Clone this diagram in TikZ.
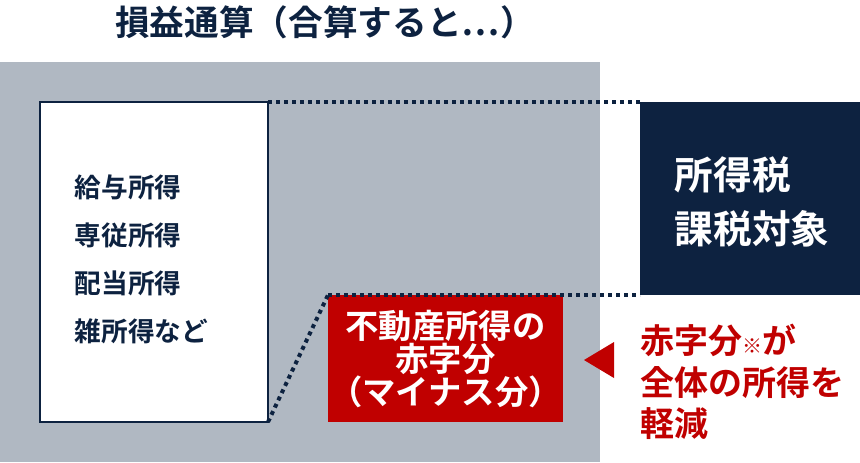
\documentclass[tikz,border=0pt]{standalone}
\usepackage{fontspec}
\setmainfont{Noto Sans CJK JP}[BoldFont={Noto Sans CJK JP Bold}]
\definecolor{grayback}{RGB}{176,184,194}
\definecolor{navy}{RGB}{13,34,64}
\definecolor{redbox}{RGB}{192,0,0}
\tikzset{every picture/.style={line width=0.75pt}}
\tikzset{
  dotline/.style={navy, line width=3pt, dash pattern=on 3pt off 3pt},
  boxtext/.style={font=\bfseries\fontsize{20}{36}\selectfont, align=left},
}

\begin{document}
\begin{tikzpicture}[x=0.75pt,y=0.75pt,yscale=-1,xscale=1]
	\useasboundingbox (0,0) rectangle (860,462);

	%Shape: Rectangle [id:grayback]
	\fill [grayback] (0,62) rectangle (600,462);
	%Shape: Rectangle [id:incomebox]
	\draw [navy, line width=1.5pt, fill=white] (40,102) rectangle (268,422);
	\coordinate (incNE) at (268,102);
	\coordinate (incSE) at (268,422);
	%Shape: Rectangle [id:taxbox]
	\fill [navy] (640,102) rectangle (860,295);
	\coordinate (taxNW) at (640,102);
	\coordinate (taxSW) at (640,295);
	%Shape: Rectangle [id:lossbox]
	\fill [redbox] (328,295) rectangle (563,422);
	\coordinate (lossNW) at (328,295);
	%Shape: Triangle [id:arrowtri]
	\fill [redbox] (584,360) -- (614,342) -- (614,378) -- cycle;

	%Dotted Lines
	\draw [dotline] (incNE) -- (taxNW);
	\draw [dotline] (lossNW) -- (taxSW);
	\draw [dotline] (incSE) -- (lossNW);

	% Text Node
	\node [font=\bfseries\fontsize{26}{30}\selectfont, text=navy] (title) at (325,22) {損益通算（合算すると…）};
	% Text Node
	\node [boxtext, text=navy, anchor=west] (income) at (70,259) {給与所得\\専従所得\\配当所得\\雑所得など};
	% Text Node
	\node [text=white, align=left, anchor=west, font=\bfseries\fontsize{29}{40}\selectfont] (taxtext) at (670,202) {所得税\\課税対象};
	% Text Node
	\node [font=\bfseries\fontsize{25}{25}\selectfont, text=white, align=center] (losstext) at (445.5,359) {不動産所得の\\赤字分\\（マイナス分）};
	% Text Node
	\node [font=\bfseries\fontsize{25.5}{31}\selectfont, text=redbox, align=left, anchor=west] (reducetext) at (636,382) {赤字分{\fontsize{15}{15}\selectfont ※}が\\全体の所得を\\軽減};
\end{tikzpicture}
\end{document}
